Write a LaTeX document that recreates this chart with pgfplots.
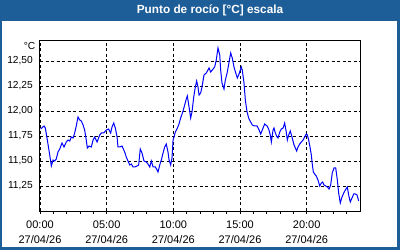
\documentclass[border=0pt]{standalone}
\usepackage{fontspec}
\setmainfont{Liberation Sans}
\usepackage{pgfplots}
\pgfplotsset{compat=1.18}
\definecolor{tb}{RGB}{30,94,152}
\begin{document}
\begin{tikzpicture}
\useasboundingbox (0,0) rectangle (400bp,250bp);
\fill[tb] (0,0) rectangle (400bp,250bp);
\fill[white] (2bp,3bp) rectangle (397bp,229bp);
\node[font=\fontsize{11.8bp}{14bp}\selectfont\bfseries, text=white] at (210bp,239.7bp) {Punto de rocío [°C] escala};
\begin{axis}[
  at={(40bp,39bp)}, anchor=south west,
  scale only axis, width=320bp, height=170bp,
  xmin=0, xmax=24, ymin=11, ymax=12.7,
  axis line style={black, line width=1bp},
  xtick={0,5,10,15,20},
  minor xtick={1,2,3,4,6,7,8,9,11,12,13,14,16,17,18,19,21,22,23},
  xticklabels={{00:00\\27/04/26},{05:00\\27/04/26},{10:00\\27/04/26},{15:00\\27/04/26},{20:00\\27/04/26}},
  ytick={11.25,11.5,11.75,12,12.25,12.5},
  xtick pos=lower, ytick pos=left,
  tick align=outside,
  major tick length=3bp, minor tick length=3bp,
  xtick style={black, line width=0.8bp},
  minor tick style={black, line width=0.8bp},
  ytick style={draw=none},
  grid=major,
  grid style={black, dash pattern=on 3bp off 2.5bp, line width=0.8bp},
  /pgf/number format/assume math mode=true,
  /pgf/number format/fixed,
  /pgf/number format/fixed zerofill,
  /pgf/number format/precision=2,
  /pgf/number format/use comma,
  yticklabel style={font=\fontsize{10.2bp}{12bp}\selectfont, inner sep=0pt, xshift=-4bp},
  xticklabel style={font=\fontsize{11bp}{15bp}\selectfont, align=center, inner sep=0pt, anchor=north, yshift=-7bp},
]
\addplot[color={rgb,255:red,0;green,0;blue,255}, line width=1bp] coordinates {
(0.05,11.82)(0.30,11.85)(0.40,11.83)(0.55,11.71)(0.73,11.56)(0.85,11.45)(0.98,11.51)(1.10,11.50)(1.22,11.52)(1.35,11.59)(1.48,11.62)(1.65,11.68)(1.80,11.64)(1.97,11.69)(2.10,11.71)(2.23,11.70)(2.35,11.74)(2.48,11.73)(2.60,11.78)(2.72,11.85)(2.85,11.94)(2.98,11.91)(3.10,11.90)(3.23,11.86)(3.35,11.81)(3.47,11.71)(3.55,11.63)(3.68,11.65)(3.85,11.64)(3.98,11.71)(4.10,11.74)(4.28,11.69)(4.48,11.76)(4.60,11.78)(4.78,11.78)(4.97,11.81)(5.15,11.82)(5.30,11.78)(5.40,11.84)(5.53,11.88)(5.65,11.83)(5.78,11.74)(5.85,11.64)(5.98,11.64)(6.15,11.65)
(6.35,11.59)(6.47,11.54)(6.60,11.50)(6.73,11.46)(6.85,11.47)(6.98,11.44)(7.10,11.44)(7.28,11.45)(7.40,11.46)(7.52,11.62)(7.65,11.58)(7.80,11.50)(7.97,11.49)(8.10,11.47)(8.23,11.44)(8.35,11.50)(8.48,11.44)(8.65,11.44)(8.78,11.41)(8.85,11.39)(8.98,11.46)(9.10,11.51)(9.23,11.58)(9.35,11.64)(9.47,11.67)(9.60,11.59)(9.68,11.51)(9.80,11.46)(9.90,11.53)(9.98,11.71)(10.05,11.74)(10.15,11.79)(10.30,11.83)(10.40,11.86)(10.55,11.93)(10.73,12.00)(10.85,12.06)(10.97,12.12)(11.05,12.15)(11.18,12.04)(11.30,11.93)(11.40,11.99)(11.53,12.14)(11.65,12.24)(11.75,12.30)(11.85,12.24)(11.93,12.16)(12.05,12.18)(12.15,12.24)
(12.30,12.36)(12.47,12.38)(12.68,12.43)(12.80,12.39)(12.92,12.41)(13.10,12.44)(13.22,12.51)(13.35,12.63)(13.48,12.56)(13.55,12.41)(13.65,12.28)(13.80,12.22)(13.90,12.31)(14.05,12.39)(14.18,12.49)(14.30,12.58)(14.42,12.53)(14.55,12.44)(14.68,12.38)(14.80,12.33)(14.90,12.36)(15.00,12.40)(15.10,12.44)(15.17,12.41)(15.30,12.28)(15.40,12.11)(15.53,11.99)(15.65,11.93)(15.80,11.89)(15.92,11.86)(16.10,11.85)(16.28,11.85)(16.43,11.81)(16.55,11.77)(16.67,11.81)(16.85,11.87)(17.03,11.85)(17.15,11.82)(17.27,11.76)(17.35,11.69)(17.48,11.81)(17.55,11.83)(17.65,11.78)(17.78,11.74)(17.85,11.73)(17.98,11.79)(18.10,11.82)(18.23,11.83)(18.35,11.88)(18.47,11.79)(18.55,11.71)(18.65,11.76)(18.77,11.80)(18.90,11.74)(19.03,11.67)(19.15,11.63)(19.25,11.60)(19.35,11.64)(19.48,11.67)(19.60,11.69)(19.73,11.71)(19.85,11.74)(19.97,11.77)(20.05,11.76)(20.15,11.71)(20.25,11.64)(20.35,11.56)(20.42,11.47)(20.50,11.39)(20.60,11.37)(20.72,11.35)(20.85,11.31)(20.98,11.25)(21.10,11.28)(21.20,11.29)(21.30,11.26)(21.43,11.25)(21.55,11.24)(21.68,11.22)(21.80,11.26)(21.92,11.38)(22.05,11.43)(22.18,11.43)(22.30,11.31)(22.40,11.18)(22.52,11.08)(22.65,11.14)(22.78,11.18)(22.90,11.21)(23.05,11.24)(23.15,11.16)(23.27,11.09)(23.40,11.13)(23.53,11.17)(23.65,11.17)(23.78,11.16)(23.90,11.10)
};
\end{axis}
\node[font=\fontsize{10.2bp}{12bp}\selectfont, anchor=base east, inner sep=0pt] at (35.5bp,200bp) {°C};
\end{tikzpicture}
\end{document}
